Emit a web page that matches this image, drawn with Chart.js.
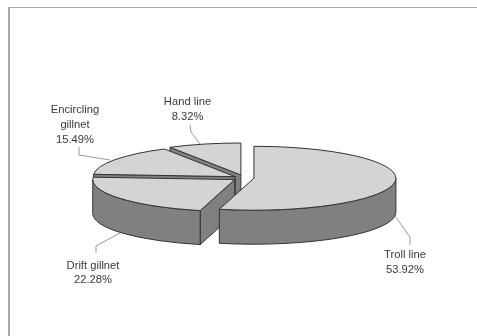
<!DOCTYPE html>
<html>
<head>
<meta charset="utf-8">
<title>Catch by gear</title>
<script src="https://cdn.jsdelivr.net/npm/chart.js@4/dist/chart.umd.min.js"></script>
<style>
html, body { margin: 0; padding: 0; background: #fff; overflow: hidden; }
#wrap { position: relative; width: 477px; height: 336px; }
#frame { position: absolute; left: 8px; top: 7px; right: 0; bottom: 0; border-left: 2px solid #aaa; border-top: 1px solid #aaa; }
canvas { position: absolute; left: 0; top: 0; }
</style>
</head>
<body>
<div id="wrap">
    <div id="frame"></div>
    <canvas id="pie" width="477" height="336"></canvas>
</div>
<script>
var gears = ['Troll line', 'Drift gillnet', 'Encircling gillnet', 'Hand line'];
var shares = [53.92, 22.28, 15.49, 8.32];

// how far each slice is pulled out of the pie
var explode = [9.5, 12, 11, 14];
var flatten = 0.225;
var depth = 34;
var topColor = '#d4d4d4';
var wallColor = '#808080';
var edgeColor = '#333';

// text block and leader line for each slice
var callouts = [
    { lines: ['Troll line'], x: 405, y: 255, leader: [[395, 216], [410, 237], [410, 245]] },
    { lines: ['Drift gillnet'], x: 93, y: 265.5, leader: [[120, 233], [96, 246], [96, 253]] },
    { lines: ['Encircling', 'gillnet'], x: 75, y: 110, leader: [[110, 160], [79, 155], [79, 147]] },
    { lines: ['Hand line'], x: 187.5, y: 102, leader: [[200, 144], [191, 132], [190, 125]] }
];

function midY(chart) {
    return (chart.chartArea.top + chart.chartArea.bottom) / 2;
}

function wallPath(ctx, cx, cy, r, a, b) {
    ctx.beginPath();
    ctx.ellipse(cx, cy, r, r * flatten, 0, a, b);
    ctx.ellipse(cx, cy + depth, r, r * flatten, 0, b, a, true);
    ctx.closePath();
}

function drawFace(ctx, cx, cy, r, a) {
    var ex = cx + Math.cos(a) * r;
    var ey = cy + Math.sin(a) * r * flatten;
    ctx.beginPath();
    ctx.moveTo(cx, cy);
    ctx.lineTo(ex, ey);
    ctx.lineTo(ex, ey + depth);
    ctx.lineTo(cx, cy + depth);
    ctx.closePath();
    ctx.fill();
    ctx.stroke();
}

var pie3d = {
    id: 'pie3d',
    afterDatasetsUpdate: function(chart) {
        chart.getDatasetMeta(0).data.forEach(function(arc, i) {
            var mid = (arc.startAngle + arc.endAngle) / 2;
            arc.x += Math.cos(mid) * explode[i];
            arc.y += Math.sin(mid) * explode[i];
        });
    },
    beforeDatasetsDraw: function(chart) {
        var ctx = chart.ctx;
        var arcs = chart.getDatasetMeta(0).data;
        var cm = midY(chart);
        ctx.save();
        ctx.fillStyle = wallColor;
        ctx.strokeStyle = edgeColor;
        ctx.lineWidth = 1;
        // back slices first so the nearer walls cover them
        for (var i = arcs.length - 1; i >= 0; i--) {
            var arc = arcs[i];
            var cx = arc.x;
            var cy = cm + (arc.y - cm) * flatten;
            var r = arc.outerRadius;
            if (-Math.cos(arc.startAngle) > 0.01) drawFace(ctx, cx, cy, r, arc.startAngle);
            if (Math.cos(arc.endAngle) > 0.01) drawFace(ctx, cx, cy, r, arc.endAngle);
            var a = Math.max(arc.startAngle, 0);
            var b = Math.min(arc.endAngle, Math.PI);
            if (b > a) {
                wallPath(ctx, cx, cy, r, a, b);
                ctx.fill();
                ctx.stroke();
            }
        }
        ctx.restore();
        // the library draws the slice tops inside this squashed transform
        ctx.save();
        ctx.translate(0, cm);
        ctx.scale(1, flatten);
        ctx.translate(0, -cm);
    },
    afterDatasetsDraw: function(chart) {
        var ctx = chart.ctx;
        ctx.restore();
        var cm = midY(chart);
        ctx.save();
        ctx.strokeStyle = edgeColor;
        ctx.lineWidth = 1;
        chart.getDatasetMeta(0).data.forEach(function(arc) {
            var cx = arc.x;
            var cy = cm + (arc.y - cm) * flatten;
            ctx.beginPath();
            ctx.moveTo(cx, cy);
            ctx.ellipse(cx, cy, arc.outerRadius, arc.outerRadius * flatten, 0, arc.startAngle, arc.endAngle);
            ctx.closePath();
            ctx.stroke();
        });
        ctx.restore();
    },
    afterDraw: function(chart) {
        var ctx = chart.ctx;
        ctx.save();
        ctx.strokeStyle = '#999';
        ctx.lineWidth = 1;
        ctx.fillStyle = '#3a3a3a';
        ctx.font = '11.2px "Liberation Sans", Arial, sans-serif';
        ctx.textAlign = 'center';
        ctx.textBaseline = 'middle';
        callouts.forEach(function(c, i) {
            ctx.beginPath();
            c.leader.forEach(function(p, j) {
                if (j == 0) ctx.moveTo(p[0], p[1]);
                else ctx.lineTo(p[0], p[1]);
            });
            ctx.stroke();
            var rows = c.lines.concat([shares[i].toFixed(2) + '%']);
            rows.forEach(function(t, j) {
                ctx.fillText(t, c.x, c.y + j * 14.8);
            });
        });
        ctx.restore();
    }
};

new Chart(document.getElementById('pie'), {
    type: 'pie',
    plugins: [pie3d],
    data: {
        labels: gears,
        datasets: [{
            data: shares,
            backgroundColor: topColor,
            borderWidth: 0,
            clip: false
        }]
    },
    options: {
        responsive: false,
        animation: false,
        events: [],
        radius: 142,
        layout: { padding: { left: 12, top: 20 } },
        plugins: {
            legend: { display: false },
            tooltip: { enabled: false }
        }
    }
});
</script>
</body>
</html>
